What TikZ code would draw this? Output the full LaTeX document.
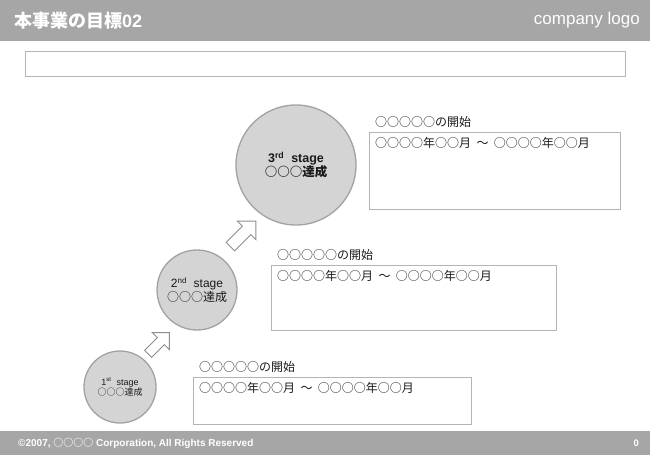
\documentclass[tikz,border=0pt]{standalone}
\usepackage{fontspec}
\setmainfont{Liberation Sans}
\newfontfamily\jpfont{Noto Sans CJK JP}
\usetikzlibrary{positioning, shapes.arrows}
\definecolor{barFill}{HTML}{A6A6A6}
\definecolor{boxDraw}{HTML}{B4B4B4}
\definecolor{cirFill}{HTML}{D4D4D4}
\definecolor{cirDraw}{HTML}{A2A2A2}
\definecolor{arrDraw}{HTML}{8E8E8E}
\definecolor{txt}{HTML}{1A1A1A}

\begin{document}
\begin{tikzpicture}[
  x=1pt, y=-1pt,
  font=\fontsize{12}{14}\selectfont, text=txt,
  bar/.style={rectangle, fill=barFill, anchor=north west, inner sep=0pt, outer sep=0pt,
              minimum width=650pt},
  bartext/.style={text=white, inner sep=0pt},
  frame/.style={rectangle, draw=boxDraw, line width=0.8pt, fill=white, anchor=north west,
                inner sep=0pt, outer sep=0pt},
  stage/.style={circle, fill=cirFill, draw=cirDraw, line width=1.3pt, align=center,
                inner sep=0pt, font=\fontsize{12}{14}\selectfont},
  up/.style={single arrow, draw=arrDraw, fill=white, line width=0.9pt, rotate=45,
             single arrow head indent=0pt},
  lbl/.style={inner sep=0pt},
  span/.style={inner sep=0pt},
]
\useasboundingbox (0,0) rectangle (650,455);

% ---- Header / footer bars ----
\node[bar, minimum height=41pt] (header) at (0,0) {};
\node[bartext, font=\fontsize{18}{20}\selectfont\bfseries, right=14pt of header.west] (title)
   {{\jpfont 本事業の目標}02};
\node[bartext, font=\fontsize{17}{19}\selectfont, left=10pt of header.east] (logo)
   {company logo};
\node[bar, minimum height=24pt] (footer) at (0,431) {};
\node[bartext, font=\fontsize{10}{12}\selectfont\bfseries, right=18pt of footer.west] (copy)
   {©2007, {\jpfont ○○○○} Corporation, All Rights Reserved};
\node[bartext, font=\fontsize{9.5}{11}\selectfont\bfseries, left=11pt of footer.east] (page) {0};

% ---- Empty message box ----
\node[frame, minimum width=600pt, minimum height=25pt] (msg) at (25,51) {};

% ---- Stages ----
\node[stage, minimum size=72pt, font=\fontsize{9}{10.5}\selectfont] (st1) at (120,387)
   {1\textsuperscript{st}~~stage\\{\jpfont ○○○達成}};
\node[stage, minimum size=80pt] (st2) at (197,290)
   {2\textsuperscript{nd}~~stage\\{\jpfont ○○○達成}};
\node[stage, minimum size=120pt, font=\fontsize{12.5}{14.5}\selectfont\bfseries] (st3) at (296,165)
   {3\textsuperscript{rd}~~stage\\{\jpfont ○○○達成}};

\node[up, inner sep=4.5pt, minimum width=19pt, minimum height=30pt] (ar1) at (157,345) {};
\node[up, inner sep=5.5pt, minimum width=23pt, minimum height=36pt] (ar2) at (241,236) {};

% ---- Periods ----
\node[frame, minimum width=278pt, minimum height=47pt] (per1) at (193,377) {};
\node[frame, minimum width=285pt, minimum height=65pt] (per2) at (271,265) {};
\node[frame, minimum width=251pt, minimum height=77pt] (per3) at (369,132) {};

\foreach \p in {1,2,3}{
  \node[lbl, above right=4pt and 6pt of per\p.north west] (head\p) {\jpfont ○○○○○の開始};
  \node[span, below right=5pt and 6pt of per\p.north west] (span\p)
     {\jpfont ○○○○年○○月~~～~~○○○○年○○月};
}

\end{tikzpicture}
\end{document}
